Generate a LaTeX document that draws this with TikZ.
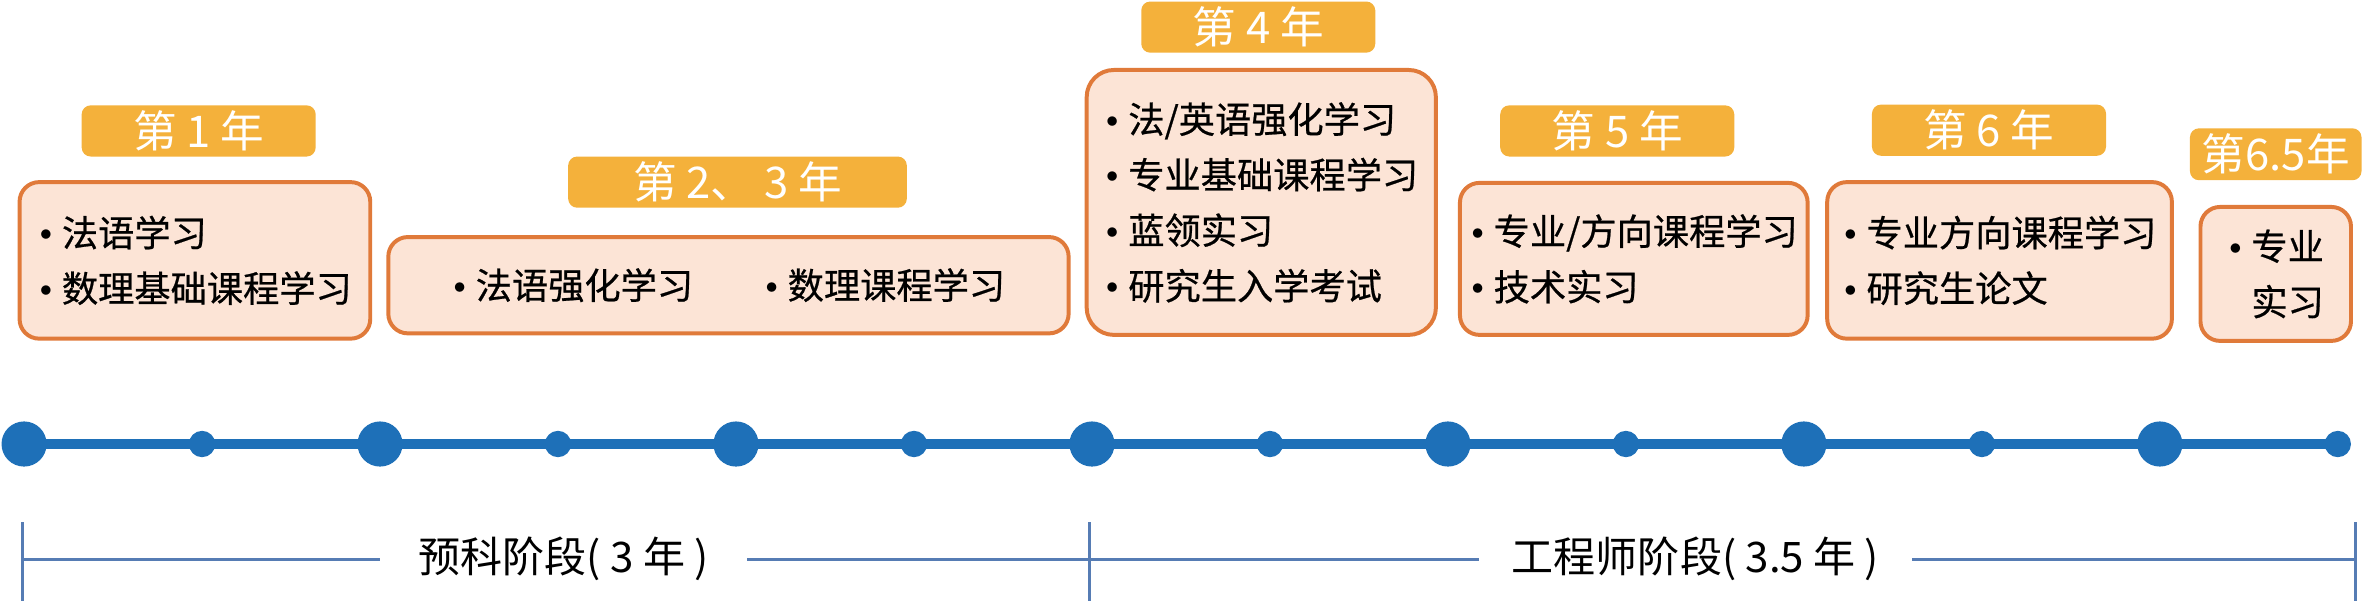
\documentclass[tikz,border=0pt]{standalone}
\usepackage{fontspec}
\setmainfont{Noto Sans CJK SC}
\newfontfamily\bodyfont{Noto Sans CJK SC}[FakeBold=0.6]
\usepackage{tikz}
\usetikzlibrary{positioning}
\definecolor{lineblue}{RGB}{30,112,184}
\definecolor{stageblue}{RGB}{86,124,180}
\definecolor{yearfill}{RGB}{244,177,59}
\definecolor{boxfill}{RGB}{252,228,214}
\definecolor{boxline}{RGB}{224,122,58}
\newcommand{\itm}{\makebox[0.66em][l]{\hspace{0.05em}\raisebox{0.16em}{\fontsize{9}{9}\selectfont$\bullet$}}}

\begin{document}
\begin{tikzpicture}[x=0.2mm,y=-0.2mm,
    yearbox/.style={fill=yearfill,text=white,rounded corners=1.2mm,inner sep=0pt,
      minimum width=31.1mm,minimum height=6.8mm,font=\fontsize{16.5}{18}\selectfont},
    plan/.style={draw=boxline,fill=boxfill,line width=1.5pt,rounded corners=2.6mm,
      align=left,inner sep=0pt,font=\bodyfont\fontsize{13.7}{21}\selectfont},
    timeline/.style={lineblue,line width=1.2mm},
    bigdot/.style={circle,fill=lineblue,inner sep=0pt,minimum size=6mm},
    smalldot/.style={circle,fill=lineblue,inner sep=0pt,minimum size=3.5mm},
    stageline/.style={stageblue,line width=0.4mm},
    stage/.style={inner sep=0pt,minimum height=5mm,font=\fontsize{15.9}{18}\selectfont}]
			\useasboundingbox (0,0) rectangle (1570,399);
			\node[yearbox] (y1) at (132,87) {第 1 年};
			\node[yearbox,minimum width=45mm] (y23) at (490,121) {第 2、 3 年};
			\node[yearbox] (y4) at (836,18) {第 4 年};
			\node[yearbox] (y5) at (1074.5,87) {第 5 年};
			\node[yearbox] (y6) at (1321.5,86.5) {第 6 年};
			\node[yearbox,minimum width=22.8mm,minimum height=6.9mm] (y65) at (1512,102.5) {第6.5年};
			\node[plan,minimum width=46.6mm,minimum height=20.8mm] (b1) at (129.5,173)
			  {\itm 法语学习\\ \itm 数理基础课程学习};
			\node[plan,minimum width=90.4mm,minimum height=12.8mm] (b23) at (484,189.5)
			  {\itm 法语强化学习\hspace{1.95em}\itm 数理课程学习};
			\node[plan,rounded corners=3.6mm,minimum width=46.4mm,minimum height=35.2mm] (b4) at (838,134.5)
			  {\itm 法/英语强化学习\\ \itm 专业基础课程学习\\ \itm 蓝领实习\\ \itm 研究生入学考试};
			\node[plan,minimum width=46.2mm,minimum height=20.2mm] (b5) at (1085.5,172)
			  {\itm 专业/方向课程学习\\ \itm 技术实习};
			\node[plan,minimum width=45.8mm,minimum height=20.8mm] (b6) at (1328.5,173)
			  {\itm 专业方向课程学习\\ \itm 研究生论文};
			\node[plan,minimum width=20mm,minimum height=17.8mm] (b65) at (1512,182)
			  {\itm 专业\\ \hspace*{0.66em}实习};
			\foreach \i in {0,...,13}
			  \coordinate (p\i) at ({16+118.25*\i},295);
			\draw[timeline] (p0) -- (p13);
			\foreach \i in {0,2,...,12}
			  \node[bigdot] (d\i) at (p\i) {};
			\foreach \i in {1,3,...,13}
			  \node[smalldot] (d\i) at (p\i) {};
			\coordinate (s0) at (15,371.5);
			\coordinate (s1) at (724,371.5);
			\coordinate (s2) at (1565,371.5);
			\node[stage,minimum width=48.6mm] (pre) at (374.5,371.5) {预科阶段( 3 年 )};
			\node[stage,minimum width=57.4mm] (eng) at (1126.5,371.5) {工程师阶段( 3.5 年 )};
			\draw[stageline] (s0) -- (pre) -- (s1) -- (eng) -- (s2);
			\foreach \s in {s0,s1,s2}
			  \draw[stageline] (\s) ++(0,-24.5) -- ++(0,56);
\end{tikzpicture}
\end{document}
